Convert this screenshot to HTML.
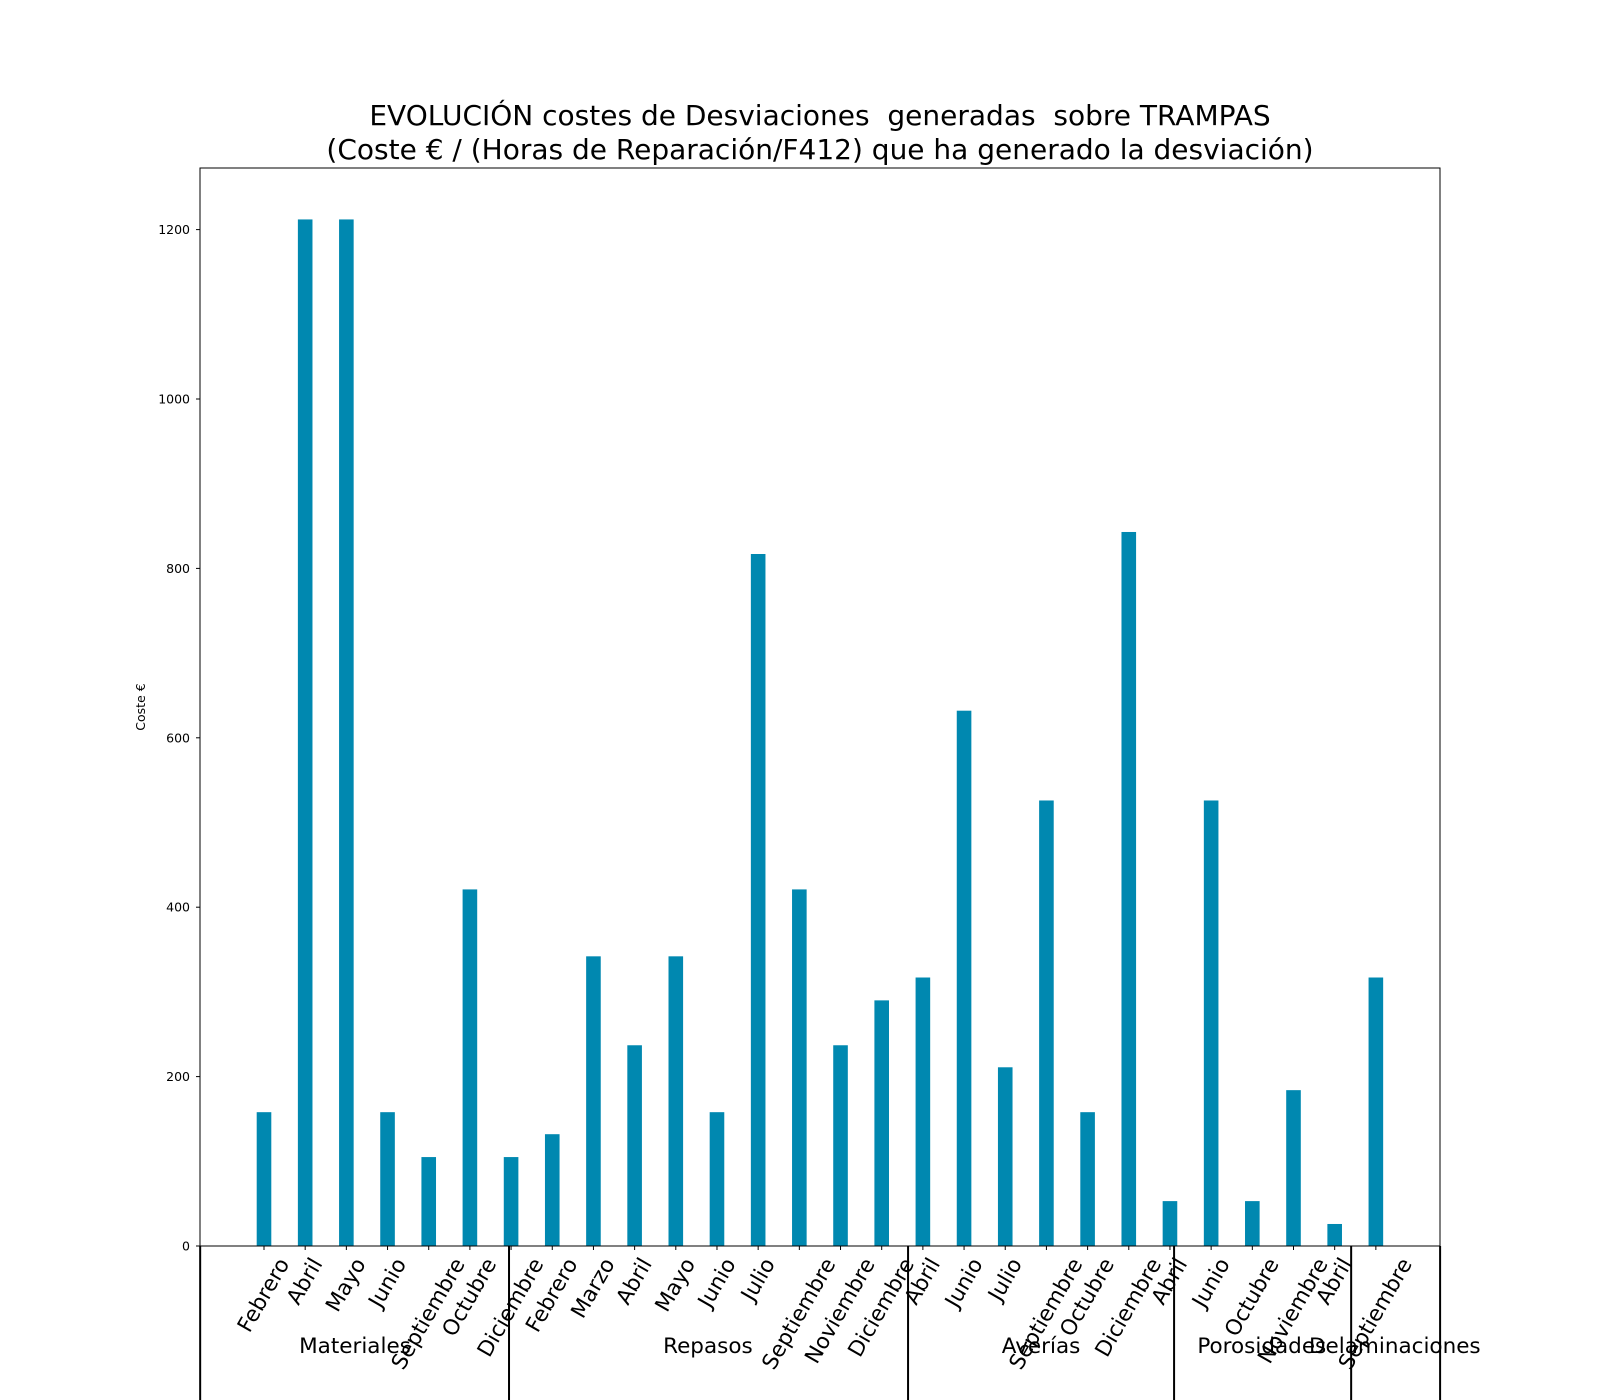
<!DOCTYPE html>
<html><head><meta charset="utf-8"><style>
body{margin:0;background:#fff;}
svg{display:block;font-family:"DejaVu Sans","Liberation Sans",sans-serif;}
</style></head><body>
<svg id="chart" width="1600" height="1400" viewBox="0 0 1600 1400" xmlns="http://www.w3.org/2000/svg">
<rect width="1600" height="1400" fill="#fff"/>
<text x="820" y="125" font-size="28" text-anchor="middle" style="white-space:pre" xml:space="preserve">EVOLUCIÓN costes de Desviaciones  generadas  sobre TRAMPAS</text>
<text x="820" y="159" font-size="28" text-anchor="middle">(Coste € / (Horas de Reparación/F412) que ha generado la desviación)</text>
<text transform="translate(145,707) rotate(-90)" font-size="12.5" text-anchor="middle">Coste €</text>
<g id="marks"></g>
<rect x="200" y="168" width="1240" height="1078" fill="none" stroke="#000" stroke-width="1"/>
</svg>
<script>
const categories = ["Febrero","Abril","Mayo","Junio","Septiembre","Octubre","Diciembre","Febrero","Marzo","Abril","Mayo","Junio","Julio","Septiembre","Noviembre","Diciembre","Abril","Junio","Julio","Septiembre","Octubre","Diciembre","Abril","Junio","Octubre","Noviembre","Abril","Septiembre"];
const values = [158,1212,1212,158,105,421,105,132,342,237,342,158,817,421,237,290,317,632,211,526,158,843,53,526,53,184,26,317];
const yTicks = [0,200,400,600,800,1000,1200];
const groups = ["Materiales","Repasos","Averías","Porosidades","Delaminaciones"];
const groupBounds = [-1.55,5.95,15.64,22.1,26.4,28.56];
const groupLabelIdx = [2.21,10.78,18.87,24.23,27.46];

const svg = document.getElementById('chart');
const g = document.getElementById('marks');
const NS = 'http://www.w3.org/2000/svg';
const X0 = 264, DX = 41.18, Y0 = 1246, YS = 0.847;
const xs = i => X0 + i * DX;
const ys = v => Y0 - v * YS;
function mk(tag, attrs, parent){const e=document.createElementNS(NS,tag);for(const k in attrs)e.setAttribute(k,attrs[k]);(parent||g).appendChild(e);return e;}

yTicks.forEach(t=>{
  const tk=mk('line',{x1:200,x2:196,y1:ys(t),y2:ys(t),stroke:'#000'});
  
  
  const lb=mk('text',{x:190,y:ys(t)+4.5,'font-size':12.5,'text-anchor':'end'});
  lb.textContent=t;
  
  
});

values.forEach((v,i)=>{
  const b=mk('rect',{x:xs(i)-7.3,y:ys(v),width:14.6,height:v*YS,fill:'#0088b0'});
  
  
  const tk=mk('line',{x1:xs(i),x2:xs(i),y1:Y0,y2:Y0+4,stroke:'#000'});
  
  
});

categories.forEach((c,i)=>{
  const t=mk('text',{'font-size':21.5,'text-anchor':'end',transform:'translate(0,0) rotate(-60)'});
  t.textContent=c;
  
  
  const r=t.getBoundingClientRect();
  const sr=svg.getBoundingClientRect();
  const cx=(r.left+r.right)/2-sr.left, top=r.top-sr.top;
  t.setAttribute('transform','translate('+(xs(i)-cx)+','+(1254-top)+') rotate(-60)');
});

groupBounds.forEach(b=>{
  const l=mk('line',{x1:xs(b),x2:xs(b),y1:Y0,y2:1400,stroke:'#000','stroke-width':2});
  
  
});
groups.forEach((n,i)=>{
  const t=mk('text',{x:xs(groupLabelIdx[i]),y:1353,'font-size':21.5,'text-anchor':'middle'});
  t.textContent=n;
  
  
});
</script>
</body></html>
